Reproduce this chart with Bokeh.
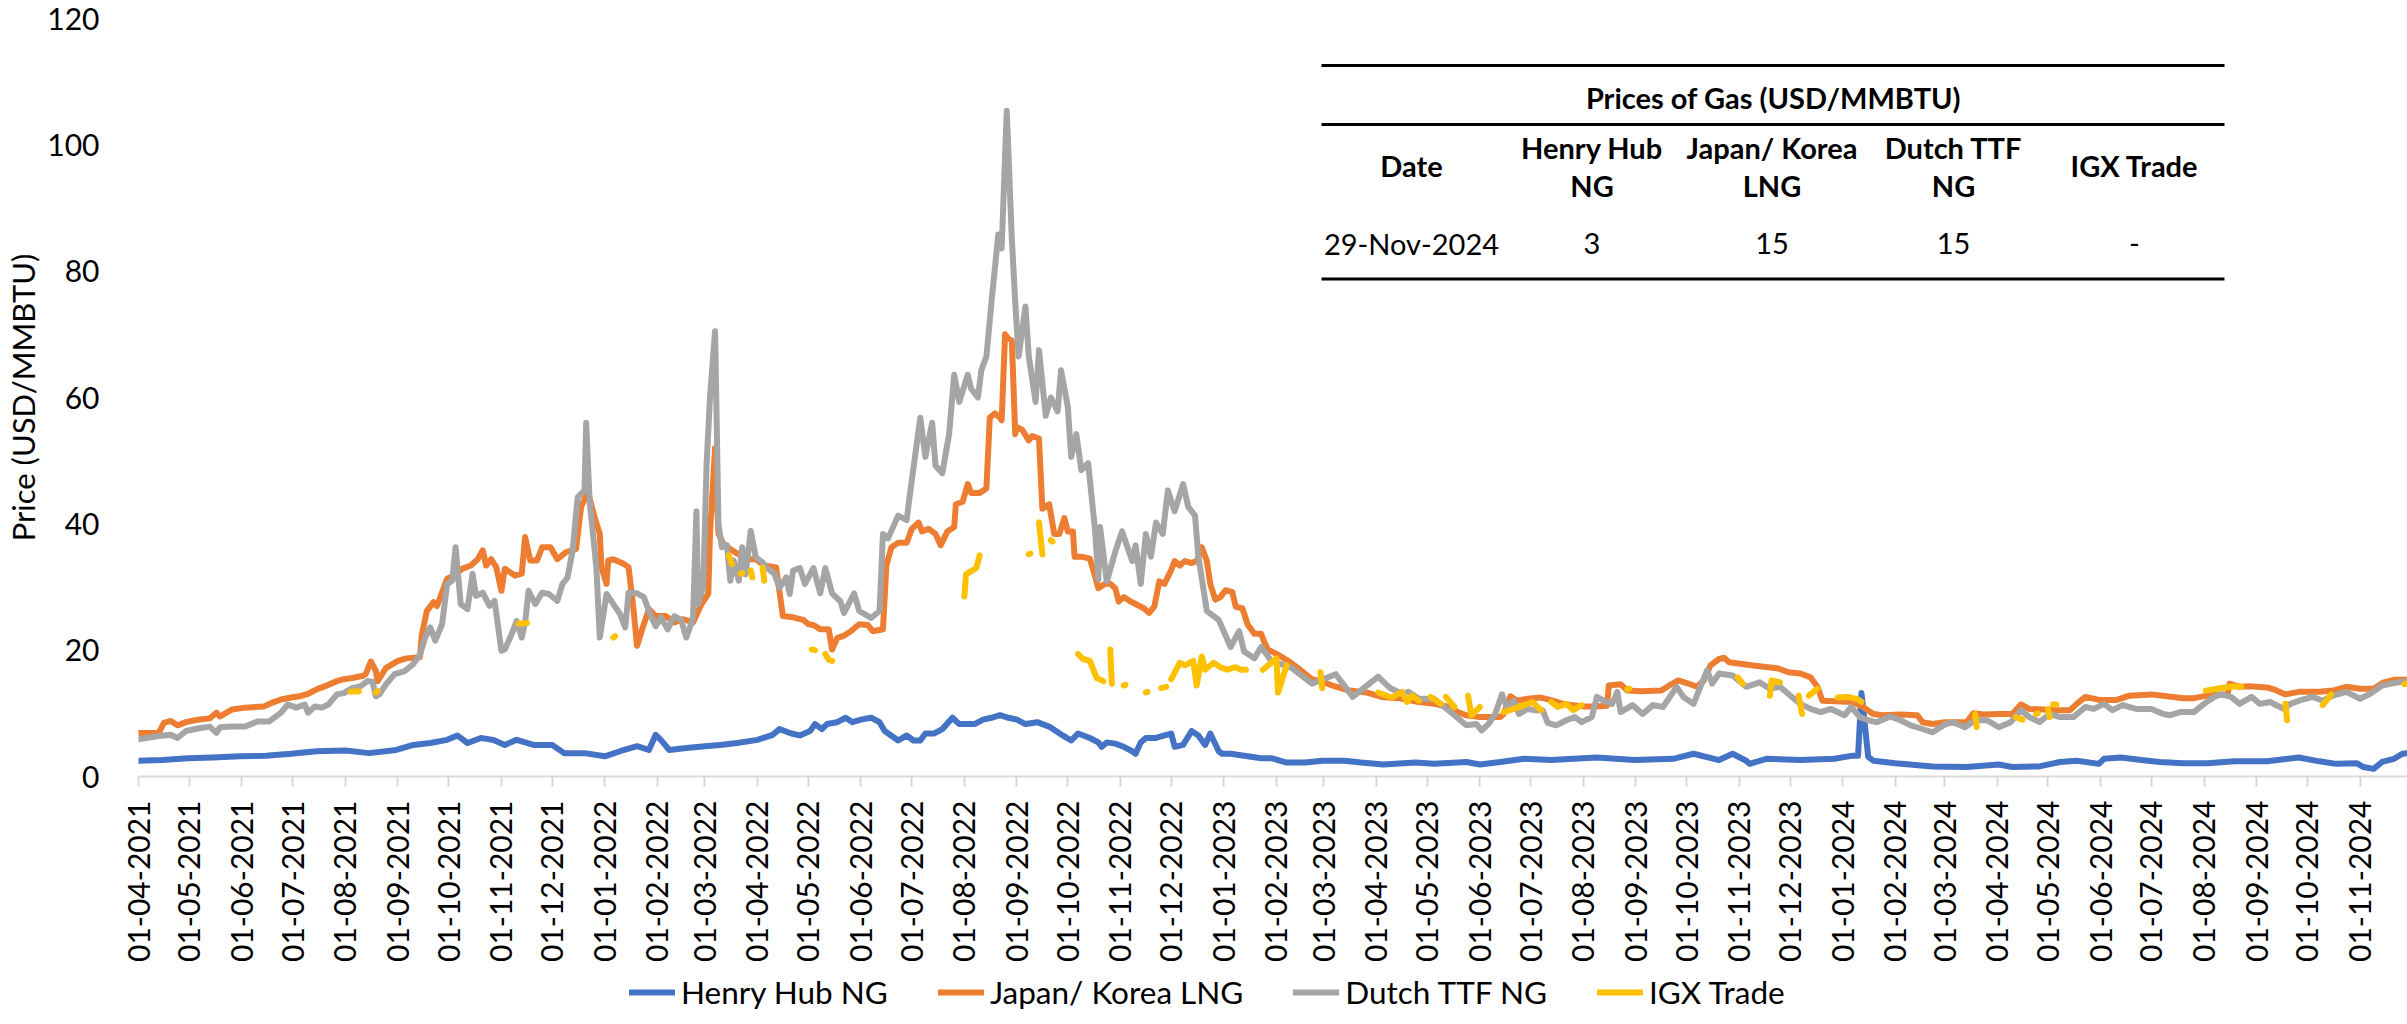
import math
import datetime as dt
import numpy as np
import pandas as pd
from bokeh.plotting import figure
from bokeh.layouts import column
from bokeh.models import (Range1d, DatetimeTickFormatter, MonthsTicker, FixedTicker,
                          Legend, LegendItem, Label, BoxAnnotation)
from bokeh.embed import file_html
from bokeh.resources import INLINE

# ---------------- data ----------------
henry_hub = [
    ("2021-04-01", 2.5), ("2021-04-15", 2.6), ("2021-04-30", 2.9), ("2021-05-15", 3.0), ("2021-05-31", 3.2),
    ("2021-06-15", 3.3), ("2021-06-30", 3.6), ("2021-07-15", 4.0), ("2021-08-01", 4.1), ("2021-08-15", 3.7),
    ("2021-08-31", 4.2), ("2021-09-10", 5.0), ("2021-09-20", 5.3), ("2021-09-30", 5.8), ("2021-10-06", 6.5),
    ("2021-10-12", 5.3), ("2021-10-20", 6.1), ("2021-10-27", 5.8), ("2021-11-03", 5.0), ("2021-11-10", 5.8),
    ("2021-11-20", 5.0), ("2021-12-01", 5.0), ("2021-12-08", 3.7), ("2021-12-20", 3.7), ("2022-01-01", 3.2),
    ("2022-01-10", 4.0), ("2022-01-20", 4.8), ("2022-01-27", 4.2), ("2022-01-31", 6.6), ("2022-02-03", 5.8),
    ("2022-02-08", 4.2), ("2022-02-18", 4.5), ("2022-03-01", 4.8), ("2022-03-10", 5.0), ("2022-03-20", 5.3),
    ("2022-04-01", 5.8), ("2022-04-10", 6.6), ("2022-04-14", 7.5), ("2022-04-21", 6.8), ("2022-04-26", 6.5),
    ("2022-05-02", 7.2), ("2022-05-05", 8.3), ("2022-05-09", 7.5), ("2022-05-12", 8.3), ("2022-05-18", 8.6),
    ("2022-05-23", 9.3), ("2022-05-27", 8.6), ("2022-06-01", 9.0), ("2022-06-07", 9.3), ("2022-06-12", 8.6),
    ("2022-06-15", 7.2), ("2022-06-23", 5.7), ("2022-06-28", 6.5), ("2022-07-02", 5.7), ("2022-07-06", 5.7),
    ("2022-07-09", 6.8), ("2022-07-14", 6.8), ("2022-07-19", 7.5), ("2022-07-25", 9.3), ("2022-07-29", 8.3),
    ("2022-08-03", 8.3), ("2022-08-07", 8.3), ("2022-08-12", 9.0), ("2022-08-17", 9.3), ("2022-08-22", 9.7),
    ("2022-08-27", 9.3), ("2022-09-01", 9.0), ("2022-09-06", 8.3), ("2022-09-13", 8.6), ("2022-09-20", 7.9),
    ("2022-09-28", 6.5), ("2022-10-03", 5.7), ("2022-10-07", 6.8), ("2022-10-14", 6.1), ("2022-10-19", 5.4),
    ("2022-10-21", 4.7), ("2022-10-24", 5.4), ("2022-10-29", 5.2), ("2022-11-03", 4.7), ("2022-11-08", 4.0),
    ("2022-11-10", 3.6), ("2022-11-13", 5.4), ("2022-11-16", 6.1), ("2022-11-22", 6.1), ("2022-11-27", 6.5),
    ("2022-12-01", 6.8), ("2022-12-03", 4.7), ("2022-12-08", 5.0), ("2022-12-13", 7.2), ("2022-12-17", 6.5),
    ("2022-12-21", 5.0), ("2022-12-24", 6.8), ("2022-12-29", 4.0), ("2022-12-31", 3.6), ("2023-01-05", 3.6),
    ("2023-01-15", 3.2), ("2023-01-23", 2.9), ("2023-01-29", 2.9), ("2023-02-07", 2.2), ("2023-02-18", 2.2),
    ("2023-02-28", 2.5), ("2023-03-13", 2.5), ("2023-03-23", 2.2), ("2023-04-05", 1.9), ("2023-04-24", 2.2),
    ("2023-05-05", 2.0), ("2023-05-24", 2.3), ("2023-06-01", 1.9), ("2023-06-13", 2.3), ("2023-06-27", 2.8),
    ("2023-07-13", 2.6), ("2023-08-09", 3.0), ("2023-08-31", 2.6), ("2023-09-23", 2.8), ("2023-10-05", 3.6),
    ("2023-10-20", 2.6), ("2023-10-28", 3.6), ("2023-11-05", 2.5), ("2023-11-07", 2.0), ("2023-11-17", 2.8),
    ("2023-12-07", 2.6), ("2023-12-27", 2.8), ("2024-01-07", 3.3), ("2024-01-10", 3.3), ("2024-01-12", 13.2),
    ("2024-01-16", 3.1), ("2024-01-19", 2.5), ("2024-02-01", 2.1), ("2024-02-23", 1.6), ("2024-03-14", 1.5),
    ("2024-04-02", 1.9), ("2024-04-10", 1.5), ("2024-04-26", 1.6), ("2024-05-08", 2.3), ("2024-05-18", 2.5),
    ("2024-05-31", 2.0), ("2024-06-03", 2.8), ("2024-06-13", 3.0), ("2024-06-25", 2.6), ("2024-07-06", 2.3),
    ("2024-07-20", 2.1), ("2024-08-03", 2.1), ("2024-08-19", 2.4), ("2024-09-07", 2.4), ("2024-09-26", 3.0),
    ("2024-10-08", 2.4), ("2024-10-18", 2.0), ("2024-10-30", 2.1), ("2024-11-03", 1.5), ("2024-11-09", 1.2),
    ("2024-11-14", 2.3), ("2024-11-21", 2.8), ("2024-11-26", 3.6), ("2024-11-29", 3.7),
]

japan_korea_lng = [
    ("2021-04-01", 6.9), ("2021-04-13", 6.9), ("2021-04-16", 8.5), ("2021-04-20", 8.8), ("2021-04-24", 8.1),
    ("2021-04-29", 8.6), ("2021-05-06", 9.0), ("2021-05-13", 9.2), ("2021-05-17", 10.1), ("2021-05-19", 9.5),
    ("2021-05-26", 10.6), ("2021-06-03", 10.9), ("2021-06-14", 11.1), ("2021-06-19", 11.7), ("2021-06-24", 12.2),
    ("2021-06-30", 12.5), ("2021-07-05", 12.7), ("2021-07-10", 13.1), ("2021-07-15", 13.8), ("2021-07-20", 14.3),
    ("2021-07-27", 15.1), ("2021-07-31", 15.4), ("2021-08-05", 15.6), ("2021-08-11", 15.9), ("2021-08-13", 16.2),
    ("2021-08-16", 18.2), ("2021-08-19", 16.7), ("2021-08-20", 15.1), ("2021-08-25", 17.2), ("2021-09-01", 18.3),
    ("2021-09-06", 18.7), ("2021-09-14", 18.9), ("2021-09-15", 22.3), ("2021-09-18", 26.2), ("2021-09-22", 27.6),
    ("2021-09-24", 27.0), ("2021-09-27", 29.1), ("2021-09-30", 31.3), ("2021-10-04", 31.8), ("2021-10-09", 32.9),
    ("2021-10-14", 33.4), ("2021-10-18", 34.4), ("2021-10-21", 35.8), ("2021-10-23", 33.4), ("2021-10-26", 34.4),
    ("2021-10-29", 33.1), ("2021-11-01", 29.4), ("2021-11-03", 32.9), ("2021-11-09", 31.8), ("2021-11-13", 32.1),
    ("2021-11-15", 37.9), ("2021-11-18", 34.2), ("2021-11-22", 34.2), ("2021-11-25", 36.3), ("2021-11-30", 36.3),
    ("2021-12-04", 34.4), ("2021-12-09", 35.5), ("2021-12-15", 36.0), ("2021-12-18", 42.7), ("2021-12-22", 45.0),
    ("2021-12-26", 41.0), ("2021-12-29", 38.4), ("2021-12-30", 33.1), ("2022-01-02", 30.5), ("2022-01-03", 34.2),
    ("2022-01-06", 34.4), ("2022-01-12", 33.7), ("2022-01-15", 33.1), ("2022-01-18", 26.2), ("2022-01-20", 20.7),
    ("2022-01-23", 23.3), ("2022-01-27", 26.5), ("2022-01-31", 25.4), ("2022-02-06", 25.4), ("2022-02-11", 24.4),
    ("2022-02-16", 24.9), ("2022-02-22", 24.4), ("2022-02-27", 27.3), ("2022-03-03", 28.9), ("2022-03-04", 38.4),
    ("2022-03-07", 52.0), ("2022-03-09", 38.4), ("2022-03-12", 36.8), ("2022-03-17", 35.8), ("2022-03-22", 35.0),
    ("2022-03-26", 34.4), ("2022-03-31", 34.4), ("2022-04-05", 33.4), ("2022-04-12", 33.1), ("2022-04-16", 25.4),
    ("2022-04-22", 25.2), ("2022-04-28", 24.8), ("2022-05-01", 24.1), ("2022-05-04", 24.0), ("2022-05-08", 23.3),
    ("2022-05-13", 23.3), ("2022-05-15", 20.1), ("2022-05-18", 21.9), ("2022-05-22", 22.3), ("2022-05-26", 23.0),
    ("2022-05-31", 24.1), ("2022-06-05", 24.0), ("2022-06-08", 23.0), ("2022-06-14", 23.3), ("2022-06-16", 33.4),
    ("2022-06-19", 36.3), ("2022-06-23", 37.0), ("2022-06-28", 37.0), ("2022-07-01", 39.2), ("2022-07-05", 40.2),
    ("2022-07-07", 38.8), ("2022-07-11", 39.2), ("2022-07-15", 38.4), ("2022-07-18", 36.6), ("2022-07-22", 38.8),
    ("2022-07-26", 39.5), ("2022-07-27", 43.1), ("2022-07-31", 43.5), ("2022-08-03", 46.3), ("2022-08-05", 44.9),
    ("2022-08-10", 44.9), ("2022-08-14", 45.6), ("2022-08-16", 56.8), ("2022-08-19", 57.5), ("2022-08-22", 56.8),
    ("2022-08-23", 56.4), ("2022-08-25", 70.0), ("2022-08-27", 69.3), ("2022-08-29", 69.0), ("2022-08-31", 54.2),
    ("2022-09-01", 55.3), ("2022-09-04", 54.9), ("2022-09-08", 53.2), ("2022-09-10", 53.9), ("2022-09-14", 53.5),
    ("2022-09-16", 42.4), ("2022-09-20", 43.1), ("2022-09-23", 38.4), ("2022-09-26", 38.4), ("2022-09-29", 40.9),
    ("2022-10-01", 38.8), ("2022-10-04", 38.8), ("2022-10-05", 34.8), ("2022-10-09", 34.8), ("2022-10-14", 34.5),
    ("2022-10-16", 32.7), ("2022-10-19", 29.8), ("2022-10-23", 30.5), ("2022-10-26", 30.5), ("2022-10-29", 29.8),
    ("2022-10-31", 27.7), ("2022-11-03", 28.4), ("2022-11-07", 27.7), ("2022-11-10", 27.3), ("2022-11-15", 26.6),
    ("2022-11-18", 25.9), ("2022-11-21", 26.9), ("2022-11-24", 30.9), ("2022-11-27", 30.5), ("2022-12-01", 32.7),
    ("2022-12-03", 34.1), ("2022-12-06", 33.4), ("2022-12-09", 34.1), ("2022-12-13", 33.8), ("2022-12-16", 34.1),
    ("2022-12-19", 36.3), ("2022-12-22", 34.1), ("2022-12-24", 30.5), ("2022-12-27", 28.0), ("2022-12-30", 28.4),
    ("2023-01-02", 29.5), ("2023-01-06", 29.2), ("2023-01-08", 26.9), ("2023-01-12", 26.6), ("2023-01-15", 24.1),
    ("2023-01-19", 22.6), ("2023-01-23", 22.6), ("2023-01-25", 21.2), ("2023-01-27", 20.1), ("2023-02-01", 19.4),
    ("2023-02-08", 18.3), ("2023-02-15", 16.9), ("2023-02-22", 15.4), ("2023-02-27", 15.1), ("2023-03-06", 14.4),
    ("2023-03-16", 13.6), ("2023-03-26", 13.3), ("2023-04-04", 12.6), ("2023-04-14", 12.4), ("2023-04-26", 11.8),
    ("2023-05-05", 11.5), ("2023-05-14", 11.0), ("2023-05-19", 10.2), ("2023-05-24", 9.7), ("2023-06-01", 9.4),
    ("2023-06-13", 9.4), ("2023-06-15", 9.9), ("2023-06-19", 12.7), ("2023-06-23", 12.0), ("2023-06-29", 12.3),
    ("2023-07-07", 12.5), ("2023-07-14", 12.0), ("2023-07-20", 11.5), ("2023-08-01", 11.1), ("2023-08-08", 11.1),
    ("2023-08-15", 11.2), ("2023-08-16", 14.4), ("2023-08-23", 14.6), ("2023-08-27", 13.6), ("2023-09-04", 13.5),
    ("2023-09-16", 13.6), ("2023-09-20", 14.3), ("2023-09-26", 15.2), ("2023-10-01", 14.8), ("2023-10-07", 14.2),
    ("2023-10-11", 15.2), ("2023-10-15", 17.6), ("2023-10-20", 18.6), ("2023-10-23", 18.8), ("2023-10-26", 18.1),
    ("2023-11-08", 17.6), ("2023-11-18", 17.3), ("2023-11-24", 17.1), ("2023-11-30", 16.5), ("2023-12-07", 16.3),
    ("2023-12-13", 15.7), ("2023-12-17", 14.2), ("2023-12-20", 12.0), ("2023-12-27", 11.9), ("2024-01-07", 11.8),
    ("2024-01-13", 11.0), ("2024-01-19", 9.9), ("2024-01-25", 9.7), ("2024-02-04", 9.8), ("2024-02-14", 9.7),
    ("2024-02-17", 8.6), ("2024-02-23", 8.3), ("2024-03-01", 8.6), ("2024-03-14", 8.6), ("2024-03-18", 10.0),
    ("2024-03-24", 9.8), ("2024-04-02", 9.9), ("2024-04-10", 9.9), ("2024-04-15", 11.4), ("2024-04-20", 10.7),
    ("2024-04-28", 10.6), ("2024-05-06", 10.5), ("2024-05-14", 10.5), ("2024-05-18", 11.5), ("2024-05-23", 12.6),
    ("2024-06-01", 12.1), ("2024-06-10", 12.1), ("2024-06-18", 12.8), ("2024-07-01", 13.0), ("2024-07-10", 12.7),
    ("2024-07-20", 12.4), ("2024-07-26", 12.4), ("2024-08-03", 12.8), ("2024-08-11", 13.0), ("2024-08-15", 13.1),
    ("2024-08-16", 14.7), ("2024-08-22", 14.2), ("2024-08-28", 14.3), ("2024-09-07", 14.1), ("2024-09-12", 13.7),
    ("2024-09-18", 13.0), ("2024-09-26", 13.4), ("2024-10-08", 13.4), ("2024-10-16", 13.6), ("2024-10-24", 14.2),
    ("2024-11-01", 13.9), ("2024-11-09", 13.9), ("2024-11-15", 14.9), ("2024-11-21", 15.3), ("2024-11-29", 15.3),
]

dutch_ttf = [
    ("2021-04-01", 5.9), ("2021-04-13", 6.4), ("2021-04-20", 6.6), ("2021-04-24", 6.1), ("2021-04-29", 7.2),
    ("2021-05-06", 7.6), ("2021-05-13", 7.9), ("2021-05-17", 6.9), ("2021-05-19", 7.8), ("2021-05-26", 7.9),
    ("2021-06-03", 7.9), ("2021-06-10", 8.7), ("2021-06-17", 8.7), ("2021-06-24", 10.1), ("2021-06-28", 11.4),
    ("2021-07-03", 10.9), ("2021-07-08", 11.4), ("2021-07-10", 10.1), ("2021-07-14", 11.1), ("2021-07-18", 10.9),
    ("2021-07-22", 11.4), ("2021-07-27", 13.0), ("2021-07-31", 13.2), ("2021-08-05", 14.0), ("2021-08-10", 14.3),
    ("2021-08-14", 15.1), ("2021-08-17", 15.0), ("2021-08-19", 12.7), ("2021-08-21", 13.0), ("2021-08-25", 14.6),
    ("2021-08-30", 16.2), ("2021-09-05", 16.7), ("2021-09-10", 17.8), ("2021-09-14", 19.3), ("2021-09-17", 22.0),
    ("2021-09-20", 23.6), ("2021-09-23", 21.5), ("2021-09-27", 24.1), ("2021-09-30", 30.5), ("2021-10-03", 31.0),
    ("2021-10-05", 36.3), ("2021-10-08", 27.3), ("2021-10-12", 26.5), ("2021-10-15", 32.1), ("2021-10-17", 28.6),
    ("2021-10-21", 29.1), ("2021-10-25", 27.0), ("2021-10-28", 27.8), ("2021-11-01", 19.9), ("2021-11-03", 20.1),
    ("2021-11-07", 22.5), ("2021-11-10", 24.6), ("2021-11-13", 22.0), ("2021-11-15", 24.4), ("2021-11-17", 29.4),
    ("2021-11-21", 27.3), ("2021-11-25", 29.1), ("2021-11-29", 28.9), ("2021-12-04", 27.8), ("2021-12-07", 30.5),
    ("2021-12-10", 31.5), ("2021-12-13", 35.8), ("2021-12-16", 44.2), ("2021-12-20", 45.3), ("2021-12-21", 56.0),
    ("2021-12-23", 43.7), ("2021-12-27", 33.1), ("2021-12-29", 22.0), ("2022-01-02", 28.9), ("2022-01-06", 27.3),
    ("2022-01-10", 25.7), ("2022-01-13", 23.6), ("2022-01-15", 29.1), ("2022-01-20", 29.0), ("2022-01-24", 28.4),
    ("2022-01-27", 26.2), ("2022-01-31", 23.8), ("2022-02-03", 25.2), ("2022-02-07", 23.3), ("2022-02-11", 25.4),
    ("2022-02-15", 24.8), ("2022-02-18", 22.0), ("2022-02-22", 25.0), ("2022-02-24", 42.0), ("2022-02-25", 27.3),
    ("2022-02-28", 30.0), ("2022-03-02", 49.5), ("2022-03-04", 60.0), ("2022-03-07", 70.5), ("2022-03-09", 40.0),
    ("2022-03-11", 36.3), ("2022-03-14", 36.6), ("2022-03-16", 31.0), ("2022-03-18", 34.2), ("2022-03-21", 31.0),
    ("2022-03-23", 36.3), ("2022-03-25", 32.0), ("2022-03-28", 38.9), ("2022-03-31", 34.7), ("2022-04-04", 33.9),
    ("2022-04-07", 32.9), ("2022-04-11", 32.1), ("2022-04-14", 29.9), ("2022-04-18", 31.5), ("2022-04-20", 28.9),
    ("2022-04-22", 32.6), ("2022-04-26", 33.0), ("2022-04-29", 30.5), ("2022-05-04", 33.0), ("2022-05-08", 29.0),
    ("2022-05-11", 33.0), ("2022-05-15", 29.0), ("2022-05-20", 27.7), ("2022-05-22", 25.9), ("2022-05-28", 29.0),
    ("2022-05-31", 26.2), ("2022-06-07", 25.1), ("2022-06-12", 26.2), ("2022-06-14", 38.4), ("2022-06-17", 37.7),
    ("2022-06-23", 41.3), ("2022-06-28", 40.6), ("2022-06-30", 44.9), ("2022-07-06", 56.8), ("2022-07-09", 50.6),
    ("2022-07-13", 56.0), ("2022-07-15", 49.2), ("2022-07-19", 48.0), ("2022-07-23", 54.2), ("2022-07-26", 63.6),
    ("2022-07-29", 59.3), ("2022-08-03", 63.6), ("2022-08-05", 61.4), ("2022-08-09", 60.0), ("2022-08-11", 64.3),
    ("2022-08-14", 66.5), ("2022-08-17", 75.1), ("2022-08-21", 85.8), ("2022-08-23", 83.6), ("2022-08-26", 105.4),
    ("2022-08-29", 85.1), ("2022-08-31", 75.1), ("2022-09-02", 66.5), ("2022-09-06", 74.4), ("2022-09-08", 66.5),
    ("2022-09-12", 59.3), ("2022-09-14", 67.5), ("2022-09-18", 57.1), ("2022-09-21", 60.0), ("2022-09-25", 57.8),
    ("2022-09-27", 64.3), ("2022-10-01", 58.5), ("2022-10-03", 50.6), ("2022-10-06", 54.2), ("2022-10-09", 48.5),
    ("2022-10-13", 49.6), ("2022-10-17", 39.2), ("2022-10-19", 31.2), ("2022-10-20", 39.5), ("2022-10-24", 30.9),
    ("2022-10-29", 35.6), ("2022-11-02", 38.8), ("2022-11-08", 34.1), ("2022-11-10", 36.6), ("2022-11-13", 30.5),
    ("2022-11-16", 38.4), ("2022-11-19", 34.8), ("2022-11-22", 40.2), ("2022-11-26", 38.4), ("2022-11-29", 45.3),
    ("2022-12-03", 42.0), ("2022-12-08", 46.3), ("2022-12-11", 42.7), ("2022-12-15", 41.3), ("2022-12-17", 34.8),
    ("2022-12-22", 26.2), ("2022-12-29", 24.8), ("2023-01-05", 20.5), ("2023-01-10", 23.0), ("2023-01-13", 19.8),
    ("2023-01-19", 18.7), ("2023-01-23", 20.5), ("2023-01-29", 18.3), ("2023-02-10", 17.2), ("2023-02-22", 14.7),
    ("2023-03-08", 16.2), ("2023-03-18", 12.6), ("2023-04-02", 15.8), ("2023-04-09", 14.0), ("2023-04-16", 13.1),
    ("2023-04-20", 13.4), ("2023-04-26", 12.3), ("2023-05-05", 12.3), ("2023-05-11", 11.0), ("2023-05-17", 9.7),
    ("2023-05-24", 8.1), ("2023-05-30", 8.3), ("2023-06-02", 7.3), ("2023-06-06", 8.3), ("2023-06-10", 9.9),
    ("2023-06-14", 13.0), ("2023-06-17", 11.0), ("2023-06-21", 12.0), ("2023-06-24", 9.9), ("2023-06-29", 10.7),
    ("2023-07-04", 10.5), ("2023-07-08", 10.5), ("2023-07-11", 8.5), ("2023-07-16", 8.1), ("2023-07-22", 8.9),
    ("2023-07-27", 9.4), ("2023-07-31", 8.6), ("2023-08-06", 9.4), ("2023-08-09", 12.6), ("2023-08-13", 12.0),
    ("2023-08-18", 11.5), ("2023-08-21", 13.4), ("2023-08-23", 10.2), ("2023-08-30", 11.3), ("2023-09-05", 9.9),
    ("2023-09-11", 11.3), ("2023-09-17", 11.0), ("2023-09-25", 14.2), ("2023-09-29", 12.6), ("2023-10-05", 11.5),
    ("2023-10-09", 14.2), ("2023-10-13", 16.8), ("2023-10-16", 14.7), ("2023-10-20", 16.3), ("2023-10-28", 16.0),
    ("2023-11-05", 14.2), ("2023-11-13", 14.9), ("2023-11-19", 13.9), ("2023-11-25", 14.2), ("2023-12-02", 12.6),
    ("2023-12-07", 11.5), ("2023-12-13", 10.7), ("2023-12-19", 10.2), ("2023-12-25", 10.7), ("2024-01-02", 9.7),
    ("2024-01-06", 11.0), ("2024-01-11", 9.4), ("2024-01-16", 8.9), ("2024-01-21", 8.6), ("2024-01-29", 9.5),
    ("2024-02-04", 8.9), ("2024-02-10", 8.1), ("2024-02-16", 7.6), ("2024-02-23", 7.0), ("2024-03-01", 8.2),
    ("2024-03-06", 8.6), ("2024-03-13", 7.8), ("2024-03-19", 8.9), ("2024-03-26", 8.9), ("2024-04-02", 7.8),
    ("2024-04-09", 8.6), ("2024-04-15", 10.5), ("2024-04-20", 9.4), ("2024-04-26", 8.6), ("2024-05-02", 9.9),
    ("2024-05-08", 9.4), ("2024-05-16", 9.4), ("2024-05-23", 11.0), ("2024-05-28", 10.7), ("2024-06-03", 11.5),
    ("2024-06-08", 10.5), ("2024-06-14", 11.3), ("2024-06-22", 10.7), ("2024-07-01", 10.7), ("2024-07-08", 9.9),
    ("2024-07-12", 9.7), ("2024-07-18", 10.2), ("2024-07-26", 10.2), ("2024-08-01", 11.5), ("2024-08-07", 12.6),
    ("2024-08-11", 13.0), ("2024-08-17", 12.6), ("2024-08-22", 11.5), ("2024-08-29", 12.6), ("2024-09-03", 11.5),
    ("2024-09-09", 11.8), ("2024-09-17", 10.7), ("2024-09-21", 11.5), ("2024-09-26", 12.0), ("2024-10-04", 12.6),
    ("2024-10-10", 12.0), ("2024-10-16", 12.8), ("2024-10-24", 13.4), ("2024-11-01", 12.3), ("2024-11-07", 13.1),
    ("2024-11-14", 14.4), ("2024-11-21", 14.8), ("2024-11-29", 15.1),
]

# IGX trade is only reported on some days: one list per unbroken stretch
igx_trade = [
    [("2021-08-04", 13.4), ("2021-08-09", 13.5)],
    [("2021-08-19", 13.3), ("2021-08-20", 13.5)],
    [("2021-11-11", 24.2), ("2021-11-16", 24.3)],
    [("2022-01-06", 22.0), ("2022-01-07", 22.2)],
    [("2022-03-15", 35.0), ("2022-03-17", 33.6)],
    [("2022-03-22", 32.1), ("2022-03-23", 32.2)],
    [("2022-03-28", 32.6), ("2022-03-29", 31.5)],
    [("2022-04-04", 33.1), ("2022-04-05", 31.0)],
    [("2022-05-03", 20.1), ("2022-05-05", 20.0)],
    [("2022-05-11", 19.4), ("2022-05-13", 18.5), ("2022-05-15", 18.3)],
    [("2022-08-01", 28.5), ("2022-08-02", 32.0), ("2022-08-08", 33.0), ("2022-08-10", 35.0)],
    [("2022-09-08", 35.2), ("2022-09-09", 35.3)],
    [("2022-09-14", 40.2), ("2022-09-16", 35.2)],
    [("2022-09-21", 37.4), ("2022-09-22", 37.2)],
    [("2022-10-07", 19.4), ("2022-10-10", 18.6), ("2022-10-14", 18.3), ("2022-10-18", 15.6), ("2022-10-22", 15.1)],
    [("2022-10-26", 20.1), ("2022-10-27", 14.7)],
    [("2022-11-03", 14.4), ("2022-11-04", 14.5)],
    [("2022-11-16", 13.3), ("2022-11-17", 13.4)],
    [("2022-11-25", 14.0), ("2022-11-28", 14.2)],
    [("2022-12-01", 15.4), ("2022-12-06", 18.0), ("2022-12-09", 17.6), ("2022-12-14", 18.3), ("2022-12-16", 14.4),
     ("2022-12-19", 19.0), ("2022-12-21", 16.9), ("2022-12-26", 18.0), ("2022-12-30", 17.3), ("2023-01-03", 16.9),
     ("2023-01-08", 17.3), ("2023-01-11", 16.9), ("2023-01-14", 16.9)],
    [("2023-01-24", 16.9), ("2023-02-01", 18.7), ("2023-02-02", 13.3), ("2023-02-07", 17.6)],
    [("2023-02-27", 16.5), ("2023-02-28", 14.0)],
    [("2023-04-02", 13.3), ("2023-04-10", 12.5), ("2023-04-16", 13.4), ("2023-04-19", 11.8), ("2023-04-22", 12.8),
     ("2023-04-26", 12.0)],
    [("2023-05-03", 12.6), ("2023-05-09", 11.5)],
    [("2023-05-12", 12.6), ("2023-05-17", 11.0)],
    [("2023-05-25", 12.8), ("2023-05-27", 9.7), ("2023-06-01", 11.0)],
    [("2023-06-15", 10.2), ("2023-06-21", 10.7), ("2023-06-27", 11.3), ("2023-07-02", 11.8), ("2023-07-07", 10.5)],
    [("2023-07-13", 11.8), ("2023-07-17", 11.0), ("2023-07-22", 11.5), ("2023-07-26", 10.5), ("2023-07-31", 11.3)],
    [("2023-08-27", 13.8), ("2023-08-28", 13.9)],
    [("2023-10-31", 15.7), ("2023-11-03", 14.7)],
    [("2023-11-19", 12.8), ("2023-11-20", 15.2), ("2023-11-25", 14.9)],
    [("2023-12-06", 12.8), ("2023-12-08", 9.9)],
    [("2023-12-12", 12.8), ("2023-12-17", 13.9)],
    [("2023-12-29", 12.5), ("2024-01-04", 12.6), ("2024-01-10", 12.2), ("2024-01-12", 11.8)],
    [("2024-03-19", 9.9), ("2024-03-20", 7.8)],
    [("2024-04-12", 9.4), ("2024-04-16", 9.0)],
    [("2024-04-24", 9.9), ("2024-04-25", 10.0)],
    [("2024-05-01", 10.7), ("2024-05-02", 9.4)],
    [("2024-05-04", 11.4), ("2024-05-06", 11.4)],
    [("2024-08-02", 13.6), ("2024-08-07", 13.8), ("2024-08-11", 14.0), ("2024-08-19", 14.3), ("2024-08-23", 14.2)],
    [("2024-09-18", 11.5), ("2024-09-19", 8.9)],
    [("2024-10-10", 11.3), ("2024-10-15", 13.0)],
    [("2024-11-27", 14.6), ("2024-11-28", 14.7)],
]

series_names = ["Henry Hub NG", "Japan/ Korea LNG", "Dutch TTF NG", "IGX Trade"]
y_ticks = [0, 20, 40, 60, 80, 100, 120]
y_title = "Price (USD/MMBTU)"
x_start, x_end = "2021-04-01", "2024-11-29"

table_title = "Prices of Gas (USD/MMBTU)"
table_headers = [["Date"], ["Henry Hub", "NG"], ["Japan/ Korea", "LNG"], ["Dutch TTF", "NG"], ["IGX Trade"]]
table_row = ["29-Nov-2024", "3", "15", "15", "-"]

# ---------------- styling ----------------
FONT = "Lato"
COLORS = ["#4472C4", "#ED7D31", "#A5A5A5", "#FFC000"]
LW = 6

W = 2407
MAIN_H, LEG_H = 972, 52
FRAME_LEFT, FRAME_TOP, FRAME_BOTTOM = 138, 18, 776


def to_xy(pairs):
    return pd.to_datetime([d for d, _ in pairs]), np.array([v for _, v in pairs], dtype=float)


def segments_to_xy(segs):
    xs, ys = [], []
    for seg in segs:
        for d, v in seg:
            xs.append(pd.Timestamp(d))
            ys.append(v)
        xs.append(pd.Timestamp(seg[-1][0]))
        ys.append(np.nan)
    return xs, np.array(ys, dtype=float)


p = figure(width=W, height=MAIN_H, x_axis_type="datetime",
           x_range=Range1d(dt.datetime.fromisoformat(x_start), dt.datetime.fromisoformat(x_end)),
           y_range=Range1d(0, 120),
           output_backend="svg", toolbar_location=None,
           min_border_left=FRAME_LEFT, min_border_right=0, min_border_top=FRAME_TOP,
           min_border_bottom=MAIN_H - FRAME_BOTTOM)
p.outline_line_color = None
p.xgrid.visible = False
p.ygrid.visible = False
p.background_fill_color = "white"
p.border_fill_color = "white"

for data, col in zip([henry_hub, japan_korea_lng, dutch_ttf], COLORS[:3]):
    x, y = to_xy(data)
    p.line(x, y, line_color=col, line_width=LW, line_join="round", line_cap="round")
xi, yi = segments_to_xy(igx_trade)
p.line(xi, yi, line_color=COLORS[3], line_width=LW, line_join="round", line_cap="round")

# x axis
xa = p.xaxis[0]
xa.ticker = MonthsTicker(months=list(range(1, 13)))
fmt = "%d-%m-%Y"
xa.formatter = DatetimeTickFormatter(microseconds=fmt, milliseconds=fmt, seconds=fmt, minsec=fmt,
                                     minutes=fmt, hourmin=fmt, hours=fmt, days=fmt, months=fmt, years=fmt)
xa.major_label_orientation = math.pi / 2
xa.major_label_text_font = FONT
xa.major_label_text_font_size = "30px"
xa.major_label_text_color = "#000000"
xa.axis_line_color = "#D9D9D9"
xa.axis_line_width = 2
xa.major_tick_line_color = "#D9D9D9"
xa.major_tick_line_width = 2
xa.major_tick_out = 10
xa.major_tick_in = 0
xa.minor_tick_line_color = None
xa.major_label_standoff = 14

# y axis
ya = p.yaxis[0]
ya.ticker = FixedTicker(ticks=y_ticks)
ya.axis_line_color = None
ya.major_tick_line_color = None
ya.minor_tick_line_color = None
ya.major_label_text_font = FONT
ya.major_label_text_font_size = "30px"
ya.major_label_text_line_height = 0.9
ya.major_label_text_color = "#000000"
ya.major_label_standoff = 33
ya.axis_label = y_title
ya.axis_label_text_font = FONT
ya.axis_label_text_font_size = "31px"
ya.axis_label_text_font_style = "normal"
ya.axis_label_text_color = "#000000"
ya.axis_label_standoff = 2


# table (screen coordinates relative to the plot frame: origin at frame bottom-left)
def sx(px):
    return px - FRAME_LEFT


def sy(py):
    return FRAME_BOTTOM - py


for rule_y in [65, 124, 278.5]:
    p.add_layout(BoxAnnotation(left=sx(1321), right=sx(2224), bottom=sy(rule_y + 1.5), top=sy(rule_y - 1.5),
                               left_units="screen", right_units="screen", top_units="screen",
                               bottom_units="screen", fill_color="#000000", fill_alpha=1.0,
                               line_color=None))

col_x = [1411, 1591.5, 1771.5, 1953, 2134]


def add_text(txt, px, py, bold=False, size="29px"):
    p.add_layout(Label(x=sx(px), y=sy(py), x_units="screen", y_units="screen", text=txt,
                       text_font=FONT, text_font_size=size, text_font_style="bold" if bold else "normal",
                       text_align="center", text_baseline="middle", text_color="#000000"))


add_text(table_title, 1773, 96.7, bold=True)
for cx, lines in zip(col_x, table_headers):
    if len(lines) == 1:
        add_text(lines[0], cx, 165, bold=True)
    else:
        add_text(lines[0], cx, 147, bold=True)
        add_text(lines[1], cx, 184.5, bold=True)
for cx, val in zip(col_x, table_row):
    add_text(val, cx, 242.7)

# legend strip below the chart (its own small figure, so nothing clips it);
# the column aligns its frame with the chart frame, so x is measured from FRAME_LEFT
lg = figure(width=W, height=LEG_H, output_backend="svg", toolbar_location=None,
            x_axis_location=None, y_axis_location=None, min_border=0,
            x_range=Range1d(0, 1), y_range=Range1d(0, 1))
lg.outline_line_color = None
lg.xgrid.visible = False
lg.ygrid.visible = False
# swatch renderers: their points lie outside the strip's ranges, only the legend shows them
swatches = [lg.line([5, 6], [5, 5], line_color=c, line_width=LW, line_cap="round") for c in COLORS]
items = [LegendItem(label=n, renderers=[r]) for n, r in zip(series_names, swatches)]
legend = Legend(items=items, orientation="horizontal", location=(629 - FRAME_LEFT, 13),
                label_text_font=FONT, label_text_font_size="31.5px", label_text_color="#000000",
                glyph_width=46, glyph_height=30, label_height=30, label_standoff=6, spacing=50,
                padding=0, margin=0, border_line_color=None, background_fill_alpha=0)
lg.add_layout(legend)

layout = column(p, lg, spacing=0)
open("out.html", "w").write(file_html(layout, INLINE))
